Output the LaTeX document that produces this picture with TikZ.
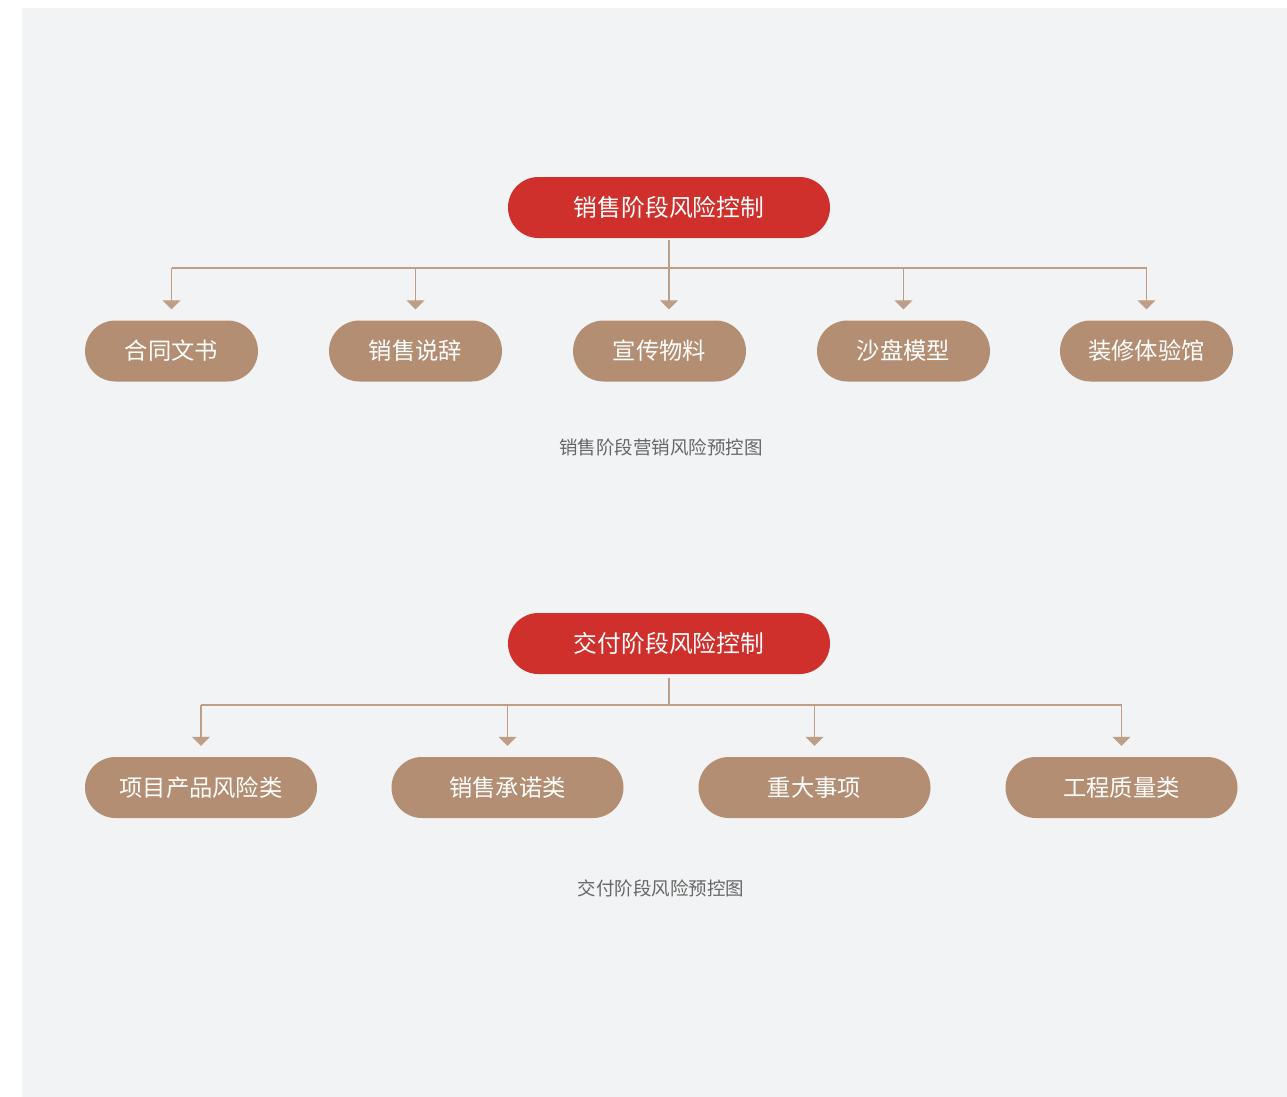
\documentclass[tikz,border=0pt]{standalone}
\usepackage{fontspec}
\setmainfont{Noto Sans CJK SC}
\usetikzlibrary{arrows.meta,calc}
\definecolor{bg}{HTML}{F2F3F5}
\definecolor{redbox}{HTML}{CF302B}
\definecolor{brownbox}{HTML}{B38E73}
\definecolor{linec}{HTML}{BE9E86}
\definecolor{capc}{HTML}{666666}
\tikzset{
  x=1pt, y=-1pt,
  parentbox/.style={draw=none, fill=redbox, rounded corners=30.5pt, minimum width=322pt, minimum height=61pt, text=white, font=\fontsize{23.8}{23.8}\selectfont, inner sep=0pt},
  childbox/.style={draw=none, fill=brownbox, rounded corners=30.5pt, minimum height=61pt, text=white, font=\fontsize{23.3}{23.3}\selectfont, inner sep=0pt},
  conn/.style={draw=linec, line width=1.2pt},
  arr/.style={conn, -{Triangle[width=18pt,length=9pt]}, shorten >=11pt},
  caption/.style={text=capc, font=\fontsize{18.5}{18.5}\selectfont, inner sep=0pt}
}
\begin{document}
\begin{tikzpicture}
\useasboundingbox (0,0) rectangle (1287,1097);
\fill[bg] (22,8) rectangle (1287,1097);

% Part 1
\node[parentbox] (p1) at (669,207.5) {\raisebox{-1pt}{销售阶段风险控制}\hspace{3pt}};
\coordinate (h1) at (0,268);
\node[childbox, minimum width=173pt] (a1) at (171.5,351) {\raisebox{-2pt}{合同文书}\hspace{4pt}};
\node[childbox, minimum width=173pt] (a2) at (415.5,351) {\raisebox{-2pt}{销售说辞}\hspace{4pt}};
\node[childbox, minimum width=173pt] (a3) at (659.5,351) {\raisebox{-2pt}{宣传物料}\hspace{4pt}};
\node[childbox, minimum width=173pt] (a4) at (903.5,351) {\raisebox{-2pt}{沙盘模型}\hspace{4pt}};
\node[childbox, minimum width=173pt] (a5) at (1146.5,351) {\raisebox{-2pt}{装修体验馆}\hspace{4pt}};
\draw[conn] (a1.north |- h1) -- (a5.north |- h1);
\draw[arr] ($(p1.south)+(0,2)$) -- (p1.south |- a3.north);
\draw[arr] (a1.north |- h1) -- (a1.north);
\draw[arr] (a2.north |- h1) -- (a2.north);
\draw[arr] (a4.north |- h1) -- (a4.north);
\draw[arr] (a5.north |- h1) -- (a5.north);
\node[caption] (cap1) at (661,447) {销售阶段营销风险预控图};

% Part 2
\node[parentbox] (p2) at (669,643.5) {\raisebox{-1pt}{交付阶段风险控制}\hspace{3pt}};
\coordinate (h2) at (0,705);
\node[childbox, minimum width=232pt] (b1) at (201,787.5) {\raisebox{-2pt}{项目产品风险类}\hspace{4pt}};
\node[childbox, minimum width=232pt] (b2) at (507.5,787.5) {\raisebox{-2pt}{销售承诺类}\hspace{4pt}};
\node[childbox, minimum width=232pt] (b3) at (814.5,787.5) {\raisebox{-2pt}{重大事项}\hspace{4pt}};
\node[childbox, minimum width=232pt] (b4) at (1121.5,787.5) {\raisebox{-2pt}{工程质量类}\hspace{4pt}};
\draw[conn] (b1.north |- h2) -- (b4.north |- h2);
\draw[conn] ($(p2.south)+(0,4)$) -- (p2.south |- h2);
\draw[arr] (b1.north |- h2) -- (b1.north);
\draw[arr] (b2.north |- h2) -- (b2.north);
\draw[arr] (b3.north |- h2) -- (b3.north);
\draw[arr] (b4.north |- h2) -- (b4.north);
\node[caption] (cap2) at (661,888) {交付阶段风险预控图};
\end{tikzpicture}
\end{document}
